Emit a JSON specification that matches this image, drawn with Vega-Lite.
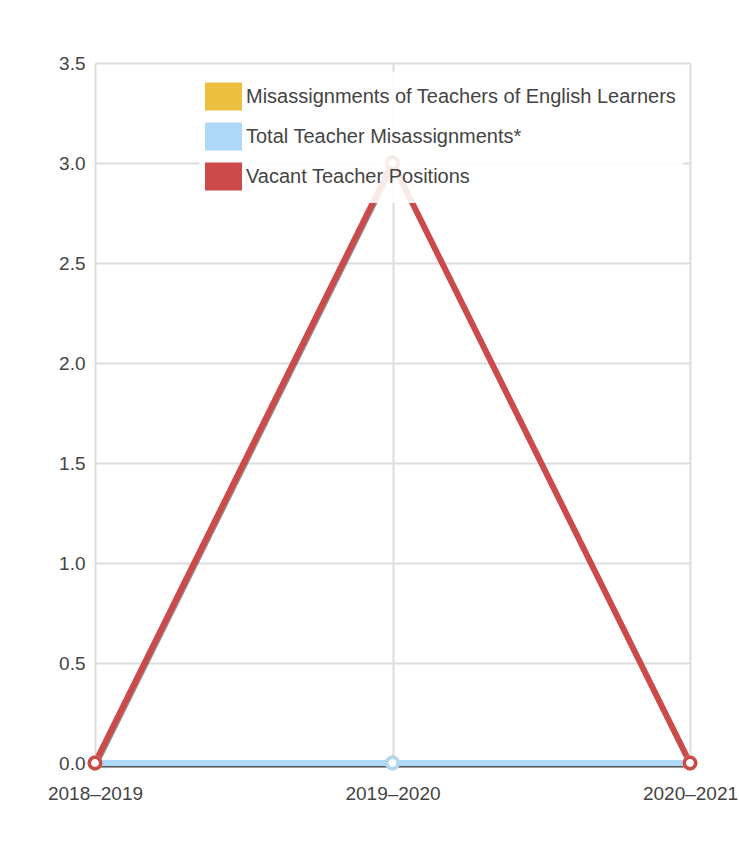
{
  "$schema": "https://vega.github.io/schema/vega-lite/v6.json",
  "width": 595,
  "height": 700,
  "autosize": {"type": "none"},
  "padding": {"left": 95, "top": 63, "right": 49, "bottom": 97},
  "background": "white",
  "config": {
    "view": {"stroke": null},
    "font": "Liberation Sans",
    "axis": {
      "labelFont": "Liberation Sans",
      "labelFontSize": 19,
      "labelColor": "#444444",
      "gridColor": "#dddddd",
      "gridWidth": 2,
      "domain": false,
      "ticks": false,
      "title": null
    },
    "legend": {
      "symbolStrokeColor": "#c6c6c6",
      "symbolStrokeWidth": 4
    }
  },
  "data": {
    "values": [
      {"year": "2018–2019", "series": "Misassignments of Teachers of English Learners", "value": 0},
      {"year": "2019–2020", "series": "Misassignments of Teachers of English Learners", "value": 0},
      {"year": "2020–2021", "series": "Misassignments of Teachers of English Learners", "value": 0},
      {"year": "2018–2019", "series": "Total Teacher Misassignments*", "value": 0},
      {"year": "2019–2020", "series": "Total Teacher Misassignments*", "value": 0},
      {"year": "2020–2021", "series": "Total Teacher Misassignments*", "value": 0},
      {"year": "2018–2019", "series": "Vacant Teacher Positions", "value": 0},
      {"year": "2019–2020", "series": "Vacant Teacher Positions", "value": 3},
      {"year": "2020–2021", "series": "Vacant Teacher Positions", "value": 0}
    ]
  },
  "encoding": {
    "x": {
      "field": "year",
      "type": "ordinal",
      "scale": {"type": "point", "padding": 0},
      "axis": {"labelAngle": 0, "labelPadding": 21, "grid": true}
    },
    "y": {
      "field": "value",
      "type": "quantitative",
      "scale": {"domain": [0, 3.5], "nice": false},
      "axis": {"values": [0, 0.5, 1, 1.5, 2, 2.5, 3, 3.5], "format": ".1f", "labelPadding": 10}
    }
  },
  "layer": [
    {
      "mark": {"type": "square", "size": 0, "stroke": "#c6c6c6", "strokeWidth": 4},
      "encoding": {
        "fill": {
          "field": "series",
          "type": "nominal",
          "scale": {
            "domain": ["Misassignments of Teachers of English Learners", "Total Teacher Misassignments*", "Vacant Teacher Positions"],
            "range": ["#ECC03E", "#ADD8F7", "#CC4A4A"]
          },
          "legend": {
            "title": null,
            "orient": "none",
            "legendX": 104,
            "legendY": 9,
            "symbolType": "M-1,-0.72H1V0.72H-1Z",
            "symbolSize": 1089,
            "symbolOpacity": 1,
            "symbolStrokeColor": "#c6c6c6",
            "symbolStrokeWidth": 4,
            "labelFont": "Liberation Sans",
            "labelFontSize": 20,
            "labelColor": "#444444",
            "labelOffset": 4,
            "rowPadding": -1,
            "padding": 6,
            "fillColor": "rgba(255,255,255,0.88)",
            "labelLimit": 600
          }
        }
      }
    },
    {
      "mark": {"type": "line", "strokeWidth": 5, "color": "#222222", "opacity": 0.5, "xOffset": 1, "yOffset": 2, "strokeJoin": "round"},
      "encoding": {"detail": {"field": "series"}}
    },
    {
      "mark": {"type": "line", "strokeWidth": 6, "strokeJoin": "round"},
      "encoding": {
        "color": {
          "field": "series",
          "type": "nominal",
          "scale": {
            "domain": ["Misassignments of Teachers of English Learners", "Total Teacher Misassignments*", "Vacant Teacher Positions"],
            "range": ["#ECC03E", "#ADD8F7", "#CC4A4A"]
          },
          "legend": null
        }
      }
    },
    {
      "mark": {"type": "point", "filled": false, "fill": "white", "fillOpacity": 1, "size": 130, "strokeWidth": 3.5, "opacity": 1},
      "encoding": {
        "color": {"field": "series", "type": "nominal", "legend": null}
      }
    }
  ]
}
